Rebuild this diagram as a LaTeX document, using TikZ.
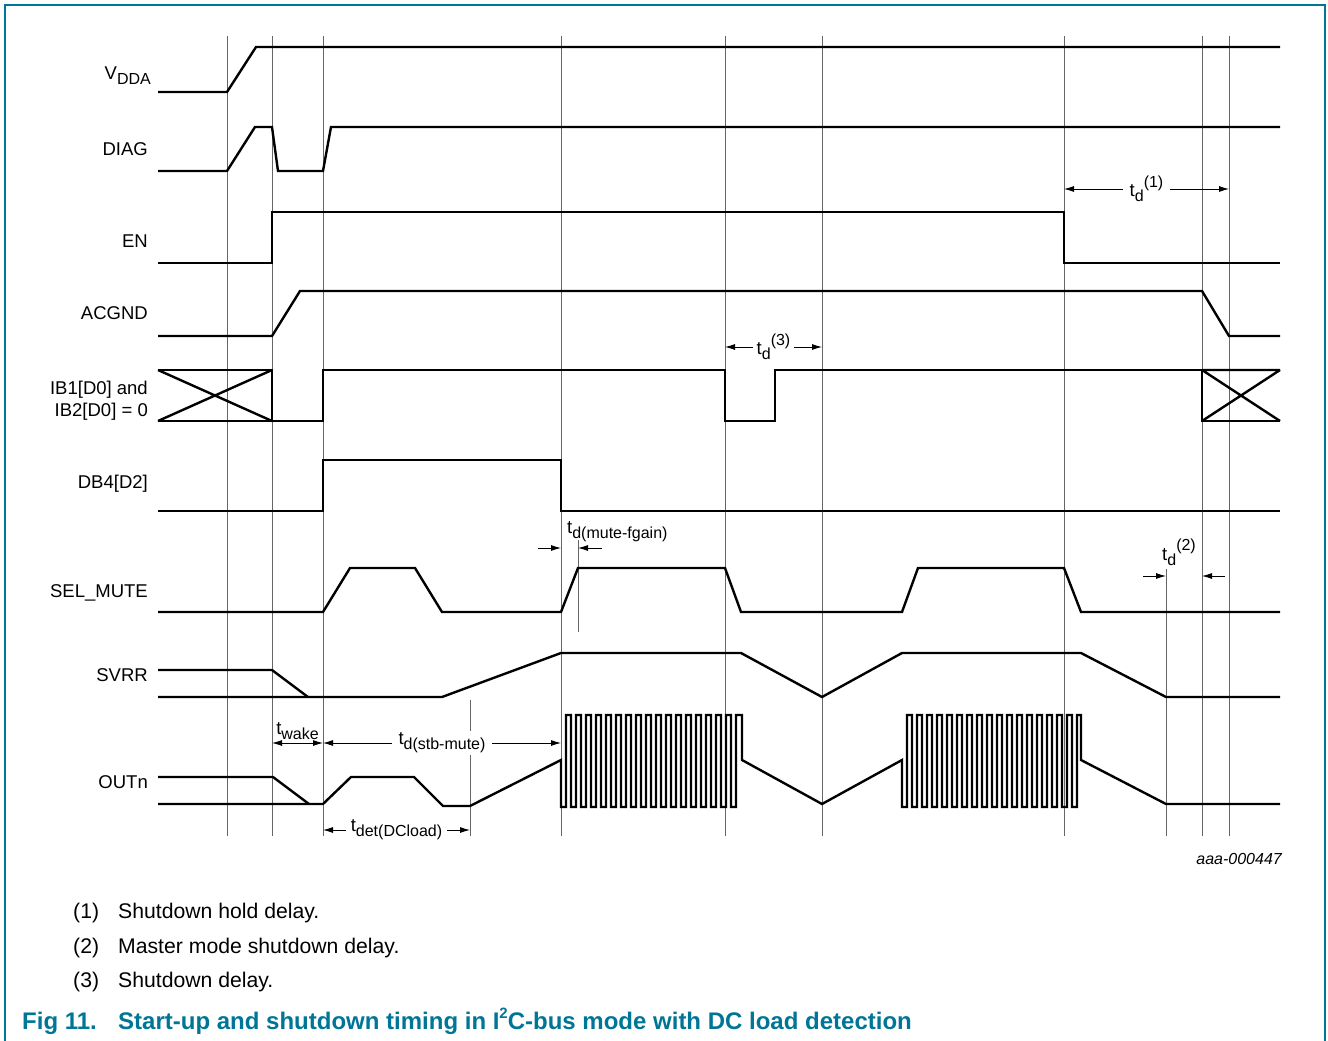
\documentclass[tikz,border=0pt]{standalone}
\usepackage{fontspec}
\setmainfont{Liberation Sans}
\usetikzlibrary{arrows.meta}
\definecolor{capteal}{RGB}{0,118,150}
\newcommand{\lowtxt}[1]{\raisebox{-0.28em}{\fontsize{16}{16}\selectfont #1}}
\newcommand{\hightxt}[1]{\raisebox{0.5em}{\fontsize{16}{16}\selectfont #1}}

\begin{document}
\begin{tikzpicture}[
    x=1pt, y=-1pt,
    font=\fontsize{18.5}{22}\selectfont,
    >={Latex[length=10pt,width=6pt]},
    sig/.style={line width=2.4pt},
    guide/.style={line width=0.9pt, black!60},
    dim/.style={line width=0.9pt},
    dimlbl/.style={fill=white, inner xsep=7pt, inner ysep=2pt},
    signame/.style={anchor=base east, inner sep=0pt},
    note/.style={anchor=base west, inner sep=0pt, font=\fontsize{21.2}{24}\selectfont},
    figcap/.style={anchor=base west, inner sep=0pt, text=capteal, font=\bfseries\fontsize{24}{26}\selectfont}
  ]
  \useasboundingbox (0,0) rectangle (1328,1041);
  % frame
  \draw[capteal, line width=1.5pt] (5,1041) -- (5,5) -- (1325,5) -- (1325,1041);
  % guide lines
  \foreach \gx in {227,272,323,561,725,822,1064,1202,1229}
    \draw[guide] (\gx,36) -- (\gx,836);
  \draw[guide] (470,700) -- (470,836);
  \draw[guide] (578,540) -- (578,632);
  \draw[guide] (1166,569) -- (1166,836);
  % signal names
  \node[signame] (nVDDA) at (151,79) {V\lowtxt{DDA}};
  \node[signame] (nDIAG) at (148,155) {DIAG};
  \node[signame] (nEN) at (148,247) {EN};
  \node[signame] (nACGND) at (148,319) {ACGND};
  \node[signame] (nIBa) at (148,394) {IB1[D0] and};
  \node[signame] (nIBb) at (148,416) {IB2[D0] = 0};
  \node[signame] (nDB4) at (148,488) {DB4[D2]};
  \node[signame] (nSEL) at (148,597) {SEL\_MUTE};
  \node[signame] (nSVRR) at (148,681) {SVRR};
  \node[signame] (nOUT) at (148,788) {OUTn};
  % waveforms
  \draw[sig] (158,92) -- (227,92) -- (256,47) -- (1280,47);
  \draw[sig] (158,171) -- (227,171) -- (255,127) -- (272,127) -- (278,171)
    -- (323,171) -- (331,127) -- (1280,127);
  \draw[sig] (158,263) -- (272,263) -- (272,212) -- (1064,212) -- (1064,263) -- (1280,263);
  \draw[sig] (158,336) -- (272,336) -- (300,291) -- (1202,291) -- (1229,336) -- (1280,336);
  \draw[sig] (158,370) -- (272,370) -- (272,421) -- (158,421);
  \draw[sig] (158,370) -- (272,421) (158,421) -- (272,370);
  \draw[sig] (272,421) -- (323,421) -- (323,370) -- (725,370) -- (725,421) -- (775,421)
    -- (775,370) -- (1202,370) -- (1202,421) -- (1280,421);
  \draw[sig] (1202,370) -- (1280,370) (1202,370) -- (1280,421) (1202,421) -- (1280,370);
  \draw[sig] (158,511) -- (323,511) -- (323,460) -- (561,460) -- (561,511) -- (1280,511);
  \draw[sig] (158,612) -- (323,612) -- (350,568) -- (415,568) -- (442,612) -- (561,612)
    -- (578,568) -- (725,568) -- (741,612) -- (902,612) -- (918,568) -- (1064,568)
    -- (1081,612) -- (1280,612);
  \draw[sig] (158,670) -- (272,670) -- (308,697);
  \draw[sig] (158,697) -- (442,697) -- (561,653) -- (741,653) -- (822,697) -- (902,653)
    -- (1081,653) -- (1166,697) -- (1280,697);
  \draw[sig] (158,777) -- (273,777) -- (309,804);
  \draw[sig] (158,804) -- (323,804) -- (351,777) -- (414,777) -- (443,806) -- (470,806)
    -- (561,760) -- (561,807)
    \foreach \k in {0,...,16} { -- ++(5,0) -- ++(0,-92) -- ++(5,0) -- ++(0,92) }
    -- ++(5,0) -- ++(0,-92) -- ++(6,0) -- ++(0,45)
    -- (822,804) -- (902,760) -- (902,807)
    \foreach \k in {0,...,16} { -- ++(5,0) -- ++(0,-92) -- ++(5,0) -- ++(0,92) }
    -- ++(5,0) -- ++(0,-92) -- ++(4,0) -- ++(0,45)
    -- (1166,804) -- (1280,804);
  % timing marks
  \coordinate (tdaL) at (1064,189);
  \coordinate (tdaR) at (1229,189);
  \coordinate (tdcL) at (725,347);
  \coordinate (tdcR) at (822,347);
  \coordinate (twkL) at (272,743);
  \coordinate (twkR) at (323,743);
  \coordinate (stbR) at (561,743);
  \coordinate (detL) at (323,830);
  \coordinate (detR) at (470,830);
  \coordinate (mfaS) at (538,548);
  \coordinate (mfaE) at (561,548);
  \coordinate (mfbS) at (602,548);
  \coordinate (mfbE) at (578,548);
  \coordinate (tdbaS) at (1143,576);
  \coordinate (tdbaE) at (1166,576);
  \coordinate (tdbbS) at (1225,576);
  \coordinate (tdbbE) at (1202,576);
  \draw[dim, <->] (tdaL) -- node[dimlbl] (ltda) {t\lowtxt{d}\hightxt{(1)}} (tdaR);
  \draw[dim, <->] (tdcL) -- node[dimlbl, inner xsep=4pt] (ltdc) {t\lowtxt{d}\hightxt{(3)}} (tdcR);
  \draw[dim, <->] (twkL) -- node[above, inner sep=3pt] (ltwk) {t\lowtxt{wake}} (twkR);
  \draw[dim, <->] (twkR) -- node[dimlbl] (lstb) {t\lowtxt{d(stb-mute)}} (stbR);
  \draw[dim, <->] (detL) -- node[dimlbl, inner xsep=5pt] (ldet) {t\lowtxt{det(DCload)}} (detR);
  \draw[dim, ->] (mfaS) -- (mfaE);
  \draw[dim, ->] (mfbS) -- (mfbE);
  \node[anchor=base west, inner sep=0pt] (lmf) at (567,533) {t\lowtxt{d(mute-fgain)}};
  \draw[dim, ->] (tdbaS) -- (tdbaE);
  \draw[dim, ->] (tdbbS) -- (tdbbE);
  \node[anchor=base west, inner sep=0pt] (ltdb) at (1162,560) {t\lowtxt{d}\hightxt{(2)}};
  \node[anchor=base east, inner sep=0pt, font=\itshape\fontsize{16}{18}\selectfont] (code) at (1282,864) {aaa-000447};
  % notes and caption
  \node[note] (nn1) at (73,918) {(1)};
  \node[note] (nt1) at (118,918) {Shutdown hold delay.};
  \node[note] (nn2) at (73,953) {(2)};
  \node[note] (nt2) at (118,953) {Master mode shutdown delay.};
  \node[note] (nn3) at (73,987) {(3)};
  \node[note] (nt3) at (118,987) {Shutdown delay.};
  \node[figcap] (fig) at (22,1029) {Fig 11.};
  \node[figcap] (title) at (118,1029) {Start-up and shutdown timing in I\raisebox{0.42em}{\fontsize{15}{15}\selectfont 2}C-bus mode with DC load detection};
\end{tikzpicture}
\end{document}
